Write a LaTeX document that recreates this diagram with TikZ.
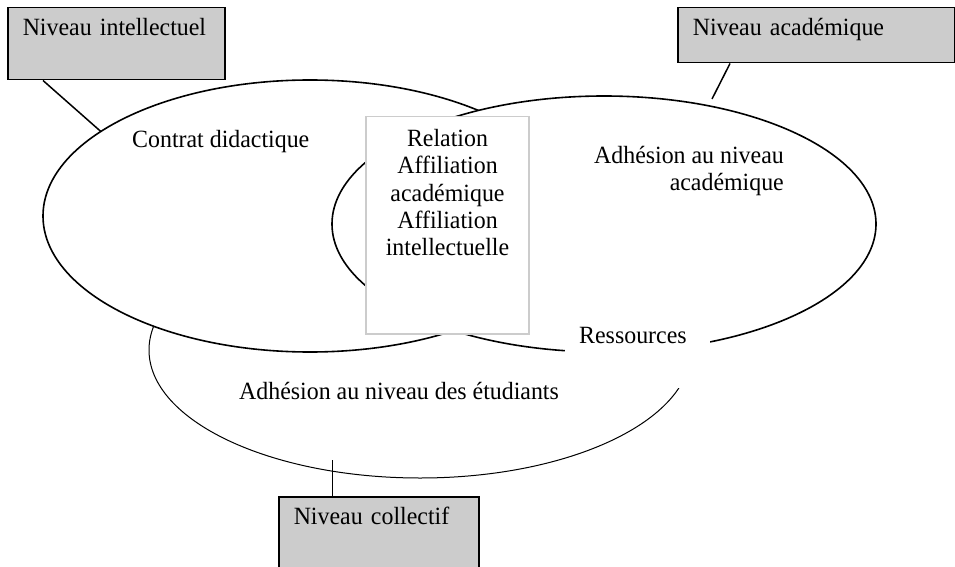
\documentclass[tikz,border=0pt]{standalone}
\usepackage{fontspec}
\setmainfont{Liberation Serif}[FakeStretch=0.963]
\usetikzlibrary{shapes.geometric}
\tikzset{
  niveau/.style={draw,fill=black!20,line width=1.5pt,anchor=north west,inner xsep=15pt,inner ysep=5pt,text height=23pt,align=left},
  zone/.style={ellipse,draw,fill=white,line width=1.6pt,inner sep=0pt,outer sep=0pt},
  txt/.style={inner sep=0pt}
}
\begin{document}
\begin{tikzpicture}[x=1pt,y=-1pt,font=\fontsize{24.8}{27.3}\selectfont]
\clip (0,0) rectangle (955,567);
\node (etud) at (420,350) [zone,line width=1pt,minimum width=542,minimum height=256] {};
\node (contrat) at (310,216) [zone,minimum width=534,minimum height=272] {};
\node (adhacad) at (604,224) [zone,minimum width=544,minimum height=256] {};
\node (rel) at (447.5,116) [anchor=north,draw=black!20,fill=white,line width=1.5pt,minimum width=163,minimum height=217] {};
\node (reltxt) at (447.5,129) [txt,anchor=north,align=center] {Relation\\Affiliation\\académique\\Affiliation\\intellectuelle};
\node (ress) at (565,343) [anchor=base west,fill=white,inner xsep=14pt,inner ysep=0pt,text width=117,align=left,text height=25,text depth=45] {Ressources};
\node (contrattxt) at (132,147) [txt,anchor=base west] {Contrat didactique};
\node (adhacadtxt) at (784,146) [txt,anchor=north east,align=right] {Adhésion au niveau\\académique};
\node (etudtxt) at (239,399) [txt,anchor=base west] {Adhésion au niveau des étudiants};
\node (intel) at (7,7) [niveau,text width=187,text depth=39] {Niveau intellectuel};
\node (acad) at (677,7) [niveau,text width=247,text depth=22] {Niveau académique};
\node (coll) at (278,496) [niveau,text width=170,text depth=60] {Niveau collectif};
\coordinate (acadend) at (712,99);
\coordinate (collend) at (332,460);
\draw[line width=1.5pt] ([xshift=36pt]intel.south west) -- (contrat.158.7);
\draw[line width=1.5pt] ([xshift=53pt]acad.south west) -- (acadend);
\draw[line width=0.8pt] ([xshift=54pt]coll.north west) -- (collend);
\end{tikzpicture}
\end{document}
